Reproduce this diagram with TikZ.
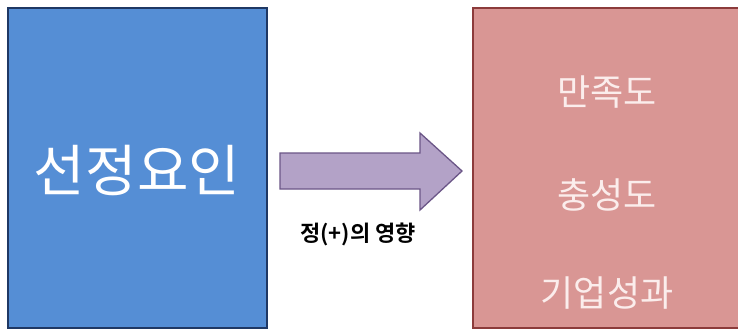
\documentclass[tikz,border=0pt]{standalone}
\usepackage{fontspec}
\setmainfont{Noto Sans CJK KR}
\newfontfamily\krbold{Noto Sans CJK KR Bold}
\definecolor{lbfill}{HTML}{558ED5}
\definecolor{lbdraw}{HTML}{1F3864}
\definecolor{rbfill}{HTML}{D99694}
\definecolor{rbdraw}{HTML}{8C3B3B}
\definecolor{arfill}{HTML}{B3A2C7}
\definecolor{ardraw}{HTML}{6B5687}
\definecolor{rtext}{HTML}{FBEDEC}
\tikzset{
  box/.style={draw, line width=1.5pt, inner sep=0pt},
  rlabel/.style={text=rtext, font=\fontsize{36}{40}\selectfont},
}
\begin{document}
\begin{tikzpicture}[x=1pt,y=-1pt]
\useasboundingbox (0,0) rectangle (738,330);
\fill[white] (0,0) rectangle (738,330);
\draw[box, fill=lbfill, draw=lbdraw] (8,8) rectangle (267,328);
\node[text=white, font=\fontsize{56}{62}\selectfont] (left) at (137,170) {선정요인};
\draw[box, fill=rbfill, draw=rbdraw] (473,8) rectangle (745,328);
\node[rlabel] (r1) at (607,92) {만족도};
\node[rlabel] (r2) at (607,195) {충성도};
\node[rlabel] (r3) at (607,293) {기업성과};
\draw[line width=1.3pt, fill=arfill, draw=ardraw, line join=miter]
  (280,153) -- (420,153) -- (420,133) -- (462,171) -- (420,210) -- (420,189) -- (280,189) -- cycle;
\node[font=\krbold\fontsize{22}{26}\selectfont] (lab) at (358,234) {정(+)의 영향};
\end{tikzpicture}
\end{document}
